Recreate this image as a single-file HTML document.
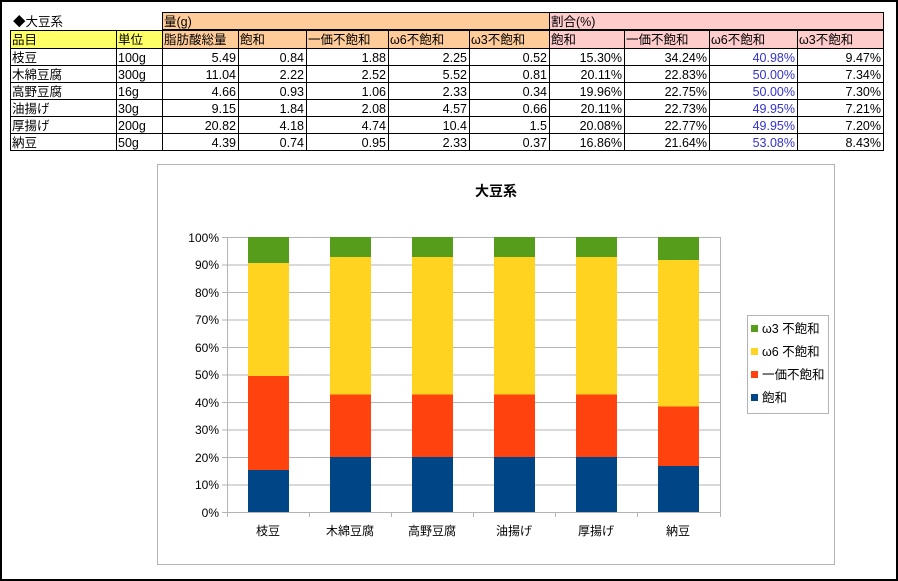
<!DOCTYPE html>
<html><head><meta charset="utf-8"><style>
html,body{margin:0;padding:0;background:#fff}
svg{display:block}
text{font-family:"Liberation Sans","Noto Sans CJK JP",sans-serif}
</style></head><body>
<svg width="898" height="581" xmlns="http://www.w3.org/2000/svg">
<rect x="1" y="1" width="896" height="579" fill="#fff" stroke="#000" stroke-width="2"/>
<rect x="162" y="12" width="387" height="18" fill="#FFCC99"/>
<rect x="549" y="12" width="335" height="18" fill="#FFCCCC"/>
<rect x="10" y="30" width="152" height="18" fill="#FFFF66"/>
<rect x="162" y="30" width="387" height="18" fill="#FFCC99"/>
<rect x="549" y="30" width="335" height="18" fill="#FFCCCC"/>
<g stroke="#000" stroke-width="1" fill="none">
<rect x="162.5" y="12.5" width="721" height="17"/>
<line x1="549.5" y1="12" x2="549.5" y2="30"/>
<line x1="10" y1="30.5" x2="884" y2="30.5"/>
<line x1="10" y1="48.5" x2="884" y2="48.5"/>
<line x1="10" y1="65.5" x2="884" y2="65.5"/>
<line x1="10" y1="82.5" x2="884" y2="82.5"/>
<line x1="10" y1="99.5" x2="884" y2="99.5"/>
<line x1="10" y1="116.5" x2="884" y2="116.5"/>
<line x1="10" y1="133.5" x2="884" y2="133.5"/>
<line x1="10" y1="150.5" x2="884" y2="150.5"/>
<line x1="10.5" y1="30" x2="10.5" y2="150"/>
<line x1="116.5" y1="30" x2="116.5" y2="150"/>
<line x1="162.5" y1="30" x2="162.5" y2="150"/>
<line x1="238.5" y1="30" x2="238.5" y2="150"/>
<line x1="306.5" y1="30" x2="306.5" y2="150"/>
<line x1="388.5" y1="30" x2="388.5" y2="150"/>
<line x1="469.5" y1="30" x2="469.5" y2="150"/>
<line x1="549.5" y1="30" x2="549.5" y2="150"/>
<line x1="624.5" y1="30" x2="624.5" y2="150"/>
<line x1="709.5" y1="30" x2="709.5" y2="150"/>
<line x1="797.5" y1="30" x2="797.5" y2="150"/>
<line x1="883.5" y1="30" x2="883.5" y2="150"/>
</g>
<g font-size="12.5" fill="#000">
<text x="13" y="26">◆大豆系</text>
<text x="164" y="26">量(g)</text>
<text x="551" y="26">割合(%)</text>
<text x="12" y="44">品目</text><text x="118" y="44">単位</text><text x="164" y="44">脂肪酸総量</text><text x="240" y="44">飽和</text><text x="308" y="44">一価不飽和</text><text x="390" y="44">ω6不飽和</text><text x="471" y="44">ω3不飽和</text>
<text x="551" y="44">飽和</text><text x="626" y="44">一価不飽和</text><text x="711" y="44">ω6不飽和</text><text x="799" y="44">ω3不飽和</text>
<text x="12" y="62">枝豆</text><text x="118" y="62">100g</text>
<text x="12" y="79">木綿豆腐</text><text x="118" y="79">300g</text>
<text x="12" y="96">高野豆腐</text><text x="118" y="96">16g</text>
<text x="12" y="113">油揚げ</text><text x="118" y="113">30g</text>
<text x="12" y="130">厚揚げ</text><text x="118" y="130">200g</text>
<text x="12" y="147">納豆</text><text x="118" y="147">50g</text>
</g>
<g font-size="12.5" fill="#000" text-anchor="end">
<g transform="translate(0,62)"><text x="236">5.49</text><text x="304">0.84</text><text x="386">1.88</text><text x="467">2.25</text><text x="547">0.52</text><text x="622">15.30%</text><text x="707">34.24%</text><text x="881">9.47%</text></g>
<g transform="translate(0,79)"><text x="236">11.04</text><text x="304">2.22</text><text x="386">2.52</text><text x="467">5.52</text><text x="547">0.81</text><text x="622">20.11%</text><text x="707">22.83%</text><text x="881">7.34%</text></g>
<g transform="translate(0,96)"><text x="236">4.66</text><text x="304">0.93</text><text x="386">1.06</text><text x="467">2.33</text><text x="547">0.34</text><text x="622">19.96%</text><text x="707">22.75%</text><text x="881">7.30%</text></g>
<g transform="translate(0,113)"><text x="236">9.15</text><text x="304">1.84</text><text x="386">2.08</text><text x="467">4.57</text><text x="547">0.66</text><text x="622">20.11%</text><text x="707">22.73%</text><text x="881">7.21%</text></g>
<g transform="translate(0,130)"><text x="236">20.82</text><text x="304">4.18</text><text x="386">4.74</text><text x="467">10.4</text><text x="547">1.5</text><text x="622">20.08%</text><text x="707">22.77%</text><text x="881">7.20%</text></g>
<g transform="translate(0,147)"><text x="236">4.39</text><text x="304">0.74</text><text x="386">0.95</text><text x="467">2.33</text><text x="547">0.37</text><text x="622">16.86%</text><text x="707">21.64%</text><text x="881">8.43%</text></g>
<g fill="#3333CC"><text x="795" y="62">40.98%</text><text x="795" y="79">50.00%</text><text x="795" y="96">50.00%</text><text x="795" y="113">49.95%</text><text x="795" y="130">49.95%</text><text x="795" y="147">53.08%</text></g>
</g>
<rect x="157.5" y="164.5" width="677" height="400" fill="#fff" stroke="#b3b3b3"/>
<text x="496" y="196" font-size="14" font-weight="bold" text-anchor="middle">大豆系</text>
<g stroke="#b3b3b3" stroke-width="1">
<line x1="222" y1="237.5" x2="720" y2="237.5"/><line x1="222" y1="265" x2="720" y2="265"/><line x1="222" y1="292.5" x2="720" y2="292.5"/><line x1="222" y1="320" x2="720" y2="320"/><line x1="222" y1="347.5" x2="720" y2="347.5"/><line x1="222" y1="375" x2="720" y2="375"/><line x1="222" y1="402.5" x2="720" y2="402.5"/><line x1="222" y1="430" x2="720" y2="430"/><line x1="222" y1="457.5" x2="720" y2="457.5"/><line x1="222" y1="485" x2="720" y2="485"/><line x1="222" y1="512.5" x2="720" y2="512.5"/>
<line x1="227.5" y1="237" x2="227.5" y2="512"/><line x1="720.5" y1="237" x2="720.5" y2="517"/>
<line x1="227.5" y1="512" x2="227.5" y2="517"/><line x1="309.5" y1="512" x2="309.5" y2="517"/><line x1="391.5" y1="512" x2="391.5" y2="517"/><line x1="473.5" y1="512" x2="473.5" y2="517"/><line x1="555.5" y1="512" x2="555.5" y2="517"/><line x1="637.5" y1="512" x2="637.5" y2="517"/>
</g>
<g font-size="12" text-anchor="end" fill="#000">
<text x="219" y="242">100%</text><text x="219" y="269">90%</text><text x="219" y="297">80%</text><text x="219" y="324">70%</text><text x="219" y="352">60%</text><text x="219" y="379">50%</text><text x="219" y="407">40%</text><text x="219" y="434">30%</text><text x="219" y="462">20%</text><text x="219" y="489">10%</text><text x="219" y="517">0%</text>
</g>
<g font-size="12" text-anchor="middle" fill="#000">
<text x="268" y="535">枝豆</text><text x="350" y="535">木綿豆腐</text><text x="432" y="535">高野豆腐</text><text x="514" y="535">油揚げ</text><text x="596" y="535">厚揚げ</text><text x="678" y="535">納豆</text>
</g>
<g>
<rect x="248" y="470" width="41" height="42" fill="#004586"/><rect x="248" y="376" width="41" height="94" fill="#FF420E"/><rect x="248" y="263" width="41" height="113" fill="#FFD320"/><rect x="248" y="237" width="41" height="26" fill="#579D1C"/>
<rect x="330" y="457" width="41" height="55" fill="#004586"/><rect x="330" y="394.5" width="41" height="62.5" fill="#FF420E"/><rect x="330" y="257" width="41" height="137.5" fill="#FFD320"/><rect x="330" y="237" width="41" height="20" fill="#579D1C"/>
<rect x="412" y="457" width="41" height="55" fill="#004586"/><rect x="412" y="394.5" width="41" height="62.5" fill="#FF420E"/><rect x="412" y="257" width="41" height="137.5" fill="#FFD320"/><rect x="412" y="237" width="41" height="20" fill="#579D1C"/>
<rect x="494" y="457" width="41" height="55" fill="#004586"/><rect x="494" y="394.5" width="41" height="62.5" fill="#FF420E"/><rect x="494" y="257" width="41" height="137.5" fill="#FFD320"/><rect x="494" y="237" width="41" height="20" fill="#579D1C"/>
<rect x="576" y="457" width="41" height="55" fill="#004586"/><rect x="576" y="394.5" width="41" height="62.5" fill="#FF420E"/><rect x="576" y="257" width="41" height="137.5" fill="#FFD320"/><rect x="576" y="237" width="41" height="20" fill="#579D1C"/>
<rect x="658" y="466" width="41" height="46" fill="#004586"/><rect x="658" y="406.5" width="41" height="59.5" fill="#FF420E"/><rect x="658" y="260" width="41" height="146.5" fill="#FFD320"/><rect x="658" y="237" width="41" height="23" fill="#579D1C"/>
</g>
<rect x="747.5" y="315.5" width="81" height="98" fill="#fff" stroke="#b3b3b3"/>
<rect x="751" y="325" width="7" height="7" fill="#579D1C"/><rect x="751" y="348" width="7" height="7" fill="#FFD320"/><rect x="751" y="371" width="7" height="7" fill="#FF420E"/><rect x="751" y="394" width="7" height="7" fill="#004586"/>
<g font-size="12.5" fill="#000">
<text x="762" y="333">ω3 不飽和</text><text x="762" y="356">ω6 不飽和</text><text x="762" y="379">一価不飽和</text><text x="762" y="402">飽和</text>
</g>
</svg>
</body></html>
